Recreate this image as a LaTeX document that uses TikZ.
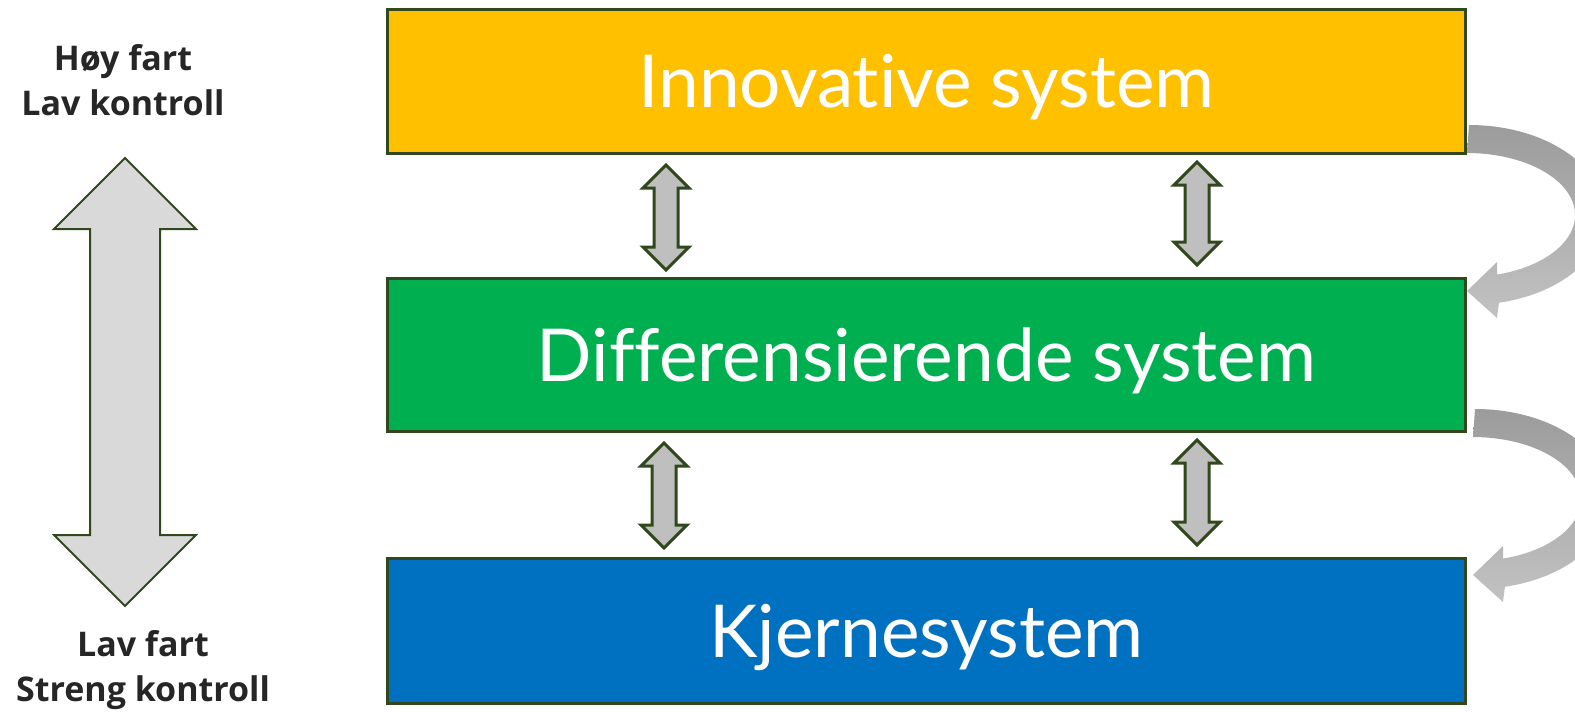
\documentclass[tikz,border=0pt]{standalone}
\usepackage{fontspec}
\setmainfont{Lato}[Ligatures={NoCommon}]
\newfontfamily\labelfont{Open Sans}
\usepackage{tikz}
\usepackage{xcolor}
\usetikzlibrary{positioning}

\definecolor{innoyellow}{HTML}{FFC000}
\definecolor{diffgreen}{HTML}{00B050}
\definecolor{corebue}{HTML}{0070C0}
\definecolor{edgegreen}{HTML}{30481C}
\definecolor{labelgray}{HTML}{262626}

% vertical double arrow: style, x, top, bottom, half head, half shaft
\newcommand{\vdarrow}[6]{%
  \draw[#1] (#2,#3) -- (#2+#5,#3+#5) -- (#2+#6,#3+#5) -- (#2+#6,#4-#5)
    -- (#2+#5,#4-#5) -- (#2,#4) -- (#2-#5,#4-#5) -- (#2-#6,#4-#5)
    -- (#2-#6,#3+#5) -- (#2-#5,#3+#5) -- cycle;}

\begin{document}
\begin{tikzpicture}
  [x=0.5pt,y=-0.5pt,
   system/.style={rectangle,draw=edgegreen,line width=1.5pt,text=white,
     minimum width=539pt,inner sep=0pt,text height=26pt,text depth=0pt,
     font=\fontsize{36.5}{40}\selectfont},
   side/.style={align=center,text=labelgray,inner sep=0pt,
     font=\labelfont\bfseries\fontsize{17}{22.5}\selectfont},
   bigarrow/.style={fill=gray!30,draw=edgegreen,line width=1pt},
   smallarrow/.style={fill=gray!50,draw=edgegreen,line width=1.5pt,line join=miter}]
  \useasboundingbox (0,0) rectangle (1575,712);
  \clip (0,0) rectangle (1575,712);

  \node[system,fill=innoyellow,minimum height=72pt] (inno) at (926.5,81.5) {Innovative system};
  \node[system,fill=diffgreen,minimum height=76.5pt] (diff) at (926.5,355) {Differensierende system};
  \node[system,fill=corebue,minimum height=72.5pt] (core) at (926.5,631) {Kjernesystem};

  \node[side] (fast) at (123,80) {Høy fart\\Lav kontroll};
  \node[side] (slow) at (143,670) {Lav fart\\Streng kontroll};

  \vdarrow{bigarrow}{125}{158}{606}{71}{35}
  \foreach \x/\ya/\yb in {666/165/270,1197/162/265,664/443/548,1197/440/545}
    {\vdarrow{smallarrow}{\x}{\ya}{\yb}{23}{12}}

  \foreach \dx/\dy in {0/0,6/284}
    {\shade[top color=gray!78,bottom color=gray!48]
      (1469+\dx,125+\dy) arc[start angle=-90,end angle=77.3,x radius=136,y radius=90]
      -- (1497+\dx,318+\dy) -- (1467+\dx,291+\dy) -- (1497+\dx,262+\dy)
      -- (1497+\dx,274.6+\dy) arc[start angle=73.9,end angle=-90,x radius=108,y radius=62]
      -- cycle;}
\end{tikzpicture}
\end{document}
